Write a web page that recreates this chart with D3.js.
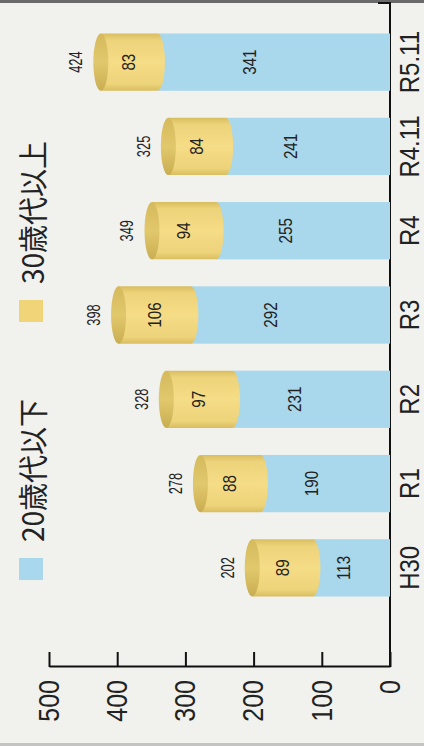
<!DOCTYPE html>
<html><head><meta charset="utf-8">
<script src="https://cdn.jsdelivr.net/npm/d3@7"></script>
<style>html,body{margin:0;padding:0;background:#f1f1ee;} svg{display:block;}</style>
</head><body>
<svg id="c" width="424" height="746"></svg>
<script>
const categories = ["H30","R1","R2","R3","R4","R4.11","R5.11"];
const under20s = [113,190,231,292,255,241,341];
const over30s = [89,88,97,106,94,84,83];
const totals = [202,278,328,398,349,325,424];
const valueTicks = [0,100,200,300,400,500];
const seriesNames = ["20歳代以下","30歳代以上"];

const BLUE = "#a9d7eb";
const svg = d3.select("#c");
svg.append("rect").attr("width",424).attr("height",746).attr("fill","#f1f1ee");
svg.append("rect").attr("x",0).attr("y",0).attr("width",424).attr("height",3).attr("fill","#6a6a6a");
svg.append("rect").attr("x",0).attr("y",743).attr("width",424).attr("height",3).attr("fill","#c4c4c2");

const defs = svg.append("defs");
const yg = defs.append("linearGradient").attr("id","yel").attr("x1",0).attr("x2",1).attr("y1",0).attr("y2",0);
[[0,"#d9be60"],[0.12,"#edd37a"],[0.5,"#f5dc86"],[0.88,"#edd37a"],[1,"#d9be60"]]
  .forEach(([o,c])=>yg.append("stop").attr("offset",o).attr("stop-color",c));
const cg = defs.append("linearGradient").attr("id","cap").attr("x1",0).attr("x2",1).attr("y1",0).attr("y2",0);
[[0,"#c9ad52"],[0.5,"#e2c86c"],[1,"#d4b95d"]]
  .forEach(([o,c])=>cg.append("stop").attr("offset",o).attr("stop-color",c));

// chart drawn in unrotated coordinates (746 wide x 424 tall), then rotated -90deg
const g = svg.append("g").attr("transform","translate(0,746) rotate(-90)");
const FONT = "'Liberation Sans', Arial, 'Noto Sans CJK JP', sans-serif";
const SY = 1.15;

const x = d3.scaleBand().domain(categories).range([136,726]).paddingInner(0.32).paddingOuter(0.16);
const y = d3.scaleLinear().domain([0,500]).range([390,49]);
const AX = 79;

// value axis
const ya = g.append("g").attr("transform",`translate(${AX},0)`)
  .call(d3.axisLeft(y).tickValues(valueTicks).tickSizeInner(-15).tickSizeOuter(0).tickPadding(13));
ya.select(".domain").attr("stroke","#111").attr("stroke-width",2);
ya.selectAll(".tick line").attr("stroke","#111").attr("stroke-width",2);
ya.selectAll(".tick text").attr("font-family",FONT).attr("font-size",25).attr("fill","#222")
  .attr("transform",`scale(1,${SY})`);

// category axis line
g.append("path").attr("d",`M${AX},${y(0)}H743V${y(0)-12}`).attr("fill","none")
  .attr("stroke","#111").attr("stroke-width",2);

const rows = categories.map((c,i)=>({c, u:under20s[i], o:over30s[i], t:totals[i]}));
const bw = x.bandwidth(), rx = bw/2, ry = 7.5;

const bars = g.append("g").selectAll("g").data(rows).join("g");
bars.append("rect").attr("x",d=>x(d.c)).attr("width",bw)
  .attr("y",d=>y(d.u)).attr("height",d=>y(0)-y(d.u)).attr("fill",BLUE);
bars.append("path").attr("fill","url(#yel)").attr("d",d=>{
  const x0=x(d.c), x1=x0+bw, yt=y(d.t), yb=y(d.u);
  return `M${x0},${yt}L${x0},${yb}A${rx},${ry} 0 0 0 ${x1},${yb}L${x1},${yt}Z`;
});
bars.append("ellipse").attr("cx",d=>x(d.c)+rx).attr("cy",d=>y(d.t)).attr("rx",rx).attr("ry",ry)
  .attr("fill","url(#cap)");

function stext(sel, fx, fy, size, sx, sy){
  return sel.attr("transform",d=>`translate(${fx(d)},${fy(d)}) scale(${sx},${sy})`)
    .attr("font-family",FONT).attr("font-size",size).attr("fill","#222").attr("text-anchor","middle");
}
stext(bars.append("text").text(d=>d.t), d=>x(d.c)+rx, d=>y(d.t)-ry-11, 16.5, 0.78, SY);
stext(bars.append("text").text(d=>d.o).attr("dominant-baseline","central"),
  d=>x(d.c)+rx, d=>(y(d.t)+y(d.u))/2, 16, 0.95, SY);
stext(bars.append("text").text(d=>d.u).attr("dominant-baseline","central"),
  d=>x(d.c)+rx, d=>y(d.u)+0.4*(y(0)-y(d.u)), 16, 0.95, SY);

// category labels
stext(g.append("g").selectAll("text").data(categories).join("text").text(d=>d)
  .attr("dominant-baseline","hanging"), d=>x(d)+rx, ()=>y(0)+9, 24, 1, SY);

// legend
const legend = [{name:seriesNames[0], color:BLUE, x:166},{name:seriesNames[1], color:"#f0d478", x:424}];
const lg = g.append("g").selectAll("g").data(legend).join("g").attr("transform",d=>`translate(${d.x},0)`);
lg.append("rect").attr("x",0).attr("y",19).attr("width",22).attr("height",24).attr("fill",d=>d.color);
lg.append("text").text(d=>d.name).attr("transform",`translate(38,31) scale(1,1.05)`)
  .attr("dominant-baseline","central").attr("font-family","'Noto Sans CJK JP', 'Liberation Sans', sans-serif")
  .attr("font-size",28).attr("fill","#222");
</script>
</body></html>
